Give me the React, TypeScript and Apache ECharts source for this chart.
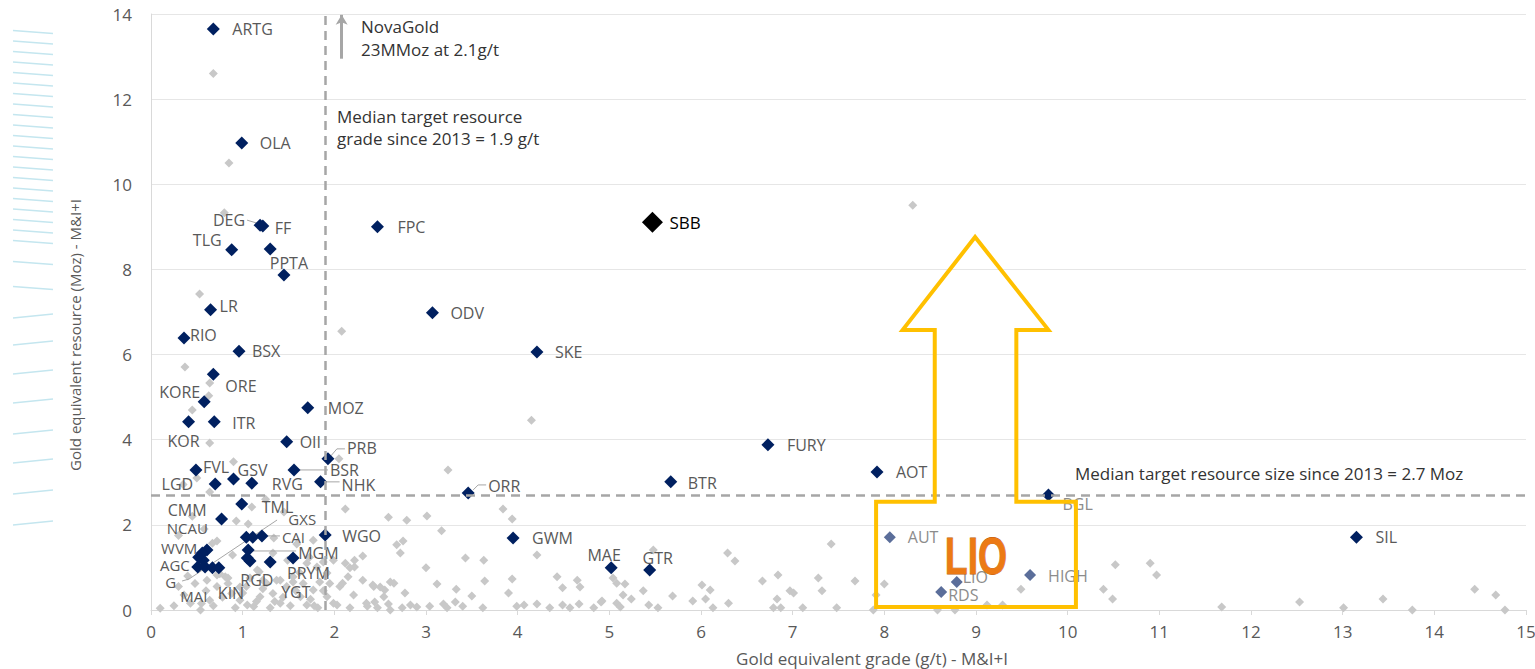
import React, { useEffect, useRef } from "react";
import * as echarts from "echarts";

// ---------------- DATA ----------------
const peerNames = ["ARTG","OLA","FF","DEG","TLG","","PPTA","LR","RIO","BSX","ORE","KORE","KOR","ITR","MOZ","OII","PRB","FVL","GSV","LGD","RVG","BSR","NHK","TML","CMM","GXS","","CAI","WGO","NCAU","WVM","","","AGC","G","MAI","KIN","MGM","RGD","","YGT","PRYM","FPC","ODV","SKE","FURY","AOT","ORR","BTR","GWM","MAE","GTR","BGL","SIL"];
const peerGrade = [0.68,0.99,1.22,1.19,0.88,1.30,1.45,0.65,0.36,0.96,0.68,0.58,0.41,0.69,1.71,1.48,1.93,0.49,0.90,0.70,1.10,1.56,1.85,0.99,0.77,1.04,1.11,1.21,1.90,0.61,0.56,0.52,0.57,0.51,0.59,0.67,0.74,1.06,1.05,1.08,1.30,1.55,2.47,3.07,4.21,6.73,7.92,3.46,5.67,3.95,5.02,5.44,9.79,13.15];
const peerResource = [13.65,10.97,9.02,9.04,8.46,8.48,7.87,7.05,6.39,6.08,5.54,4.89,4.42,4.42,4.75,3.95,3.55,3.29,3.08,2.96,2.98,3.29,3.01,2.49,2.14,1.71,1.71,1.74,1.76,1.41,1.34,1.24,1.17,1.01,1.01,0.99,0.99,1.41,1.22,1.15,1.13,1.22,9.00,6.98,6.06,3.88,3.24,2.75,3.01,1.69,0.99,0.94,2.70,1.71];

const highlightNames = ["AUT","LIO","RDS","HIGH"];
const highlightGrade = [8.06,8.79,8.62,9.59];
const highlightResource = [1.71,0.66,0.42,0.82];

const sbbNames = ["SBB"];
const sbbGrade = [5.47];
const sbbResource = [9.11];

const medianGrade = 1.9;
const medianSize = 2.7;

const otherDeposits = [
  [0.68,12.6],[0.85,10.5],[0.80,9.33],[0.53,7.42],[2.08,6.55],[0.37,5.71],[0.64,5.33],[0.63,5.03],[0.45,4.70],[0.64,3.92],
  [4.15,4.46],[8.31,9.51],[3.24,3.29],[2.05,3.55],[0.90,3.48],
  [0.64,2.77],[1.10,2.42],[0.93,2.09],[1.06,2.02],[0.72,1.62],[1.34,1.69],[1.59,1.55],[1.77,1.64],[0.89,1.29],[1.33,1.34],
  [1.49,1.17],[1.88,1.13],[1.73,1.24],[0.67,1.57],[0.35,2.95],[0.45,2.2],[0.30,1.75],[0.58,1.9],[1.25,2.6],[1.45,2.3],[0.50,3.1],
  [0.10,0.04],[0.43,0.16],[0.54,0.0],[0.64,0.23],[0.72,0.55],[0.81,0.78],[0.88,0.39],[0.97,0.23],[1.04,0.55],[1.12,0.08],
  [1.19,0.31],[1.26,0.63],[1.33,0.39],[1.41,0.16],[1.48,0.55],[1.55,0.78],[1.63,0.31],[1.70,0.12],[1.77,0.47],[1.84,0.66],
  [1.92,0.31],[1.99,0.16],[2.06,0.55],[2.15,0.78],[2.21,0.35],[2.35,0.16],[2.43,0.55],[2.54,0.31],[2.61,0.0],[2.65,0.63],
  [0.25,0.10],[0.36,0.35],[0.48,0.62],[0.60,0.45],[0.68,0.10],[0.78,0.30],[0.84,0.62],[0.92,0.05],[1.00,0.40],[1.08,0.75],
  [1.15,0.20],[1.22,0.50],[1.30,0.05],[1.37,0.70],[1.44,0.30],[1.52,0.10],[1.58,0.45],[1.66,0.62],[1.74,0.25],[1.82,0.05],
  [1.88,0.45],[1.95,0.62],[0.40,0.80],[0.75,0.85],[1.18,0.90],[1.62,0.88],[0.30,0.55],[0.55,0.15],[1.05,0.12],[1.35,0.20],
  [1.78,0.10],[0.72,0.82],[0.84,0.75],[0.61,0.70],[0.97,0.54],[1.16,0.94],[1.22,0.70],[1.41,0.70],[1.55,0.66],[1.70,1.10],
  [1.81,1.01],[1.92,0.87],[1.99,1.17],
  [2.12,2.37],[2.59,2.18],[2.79,2.11],[3.01,2.21],[3.17,1.86],[3.84,2.37],[3.94,2.14],[2.75,1.62],[2.68,1.53],[2.72,1.34],
  [2.31,1.27],[2.22,1.17],[3.43,1.22],[3.63,1.17],[3.00,0.99],[4.21,1.29],[2.12,1.10],[2.17,0.99],[2.22,1.01],[2.31,0.70],
  [2.09,0.63],[2.42,0.59],[2.50,0.54],[2.55,0.47],[2.61,0.66],[2.77,0.40],[3.12,0.61],[3.33,0.49],[3.50,0.33],[3.64,0.68],
  [3.94,0.73],[3.90,0.40],[4.07,0.12],[4.43,0.78],[4.49,0.52],[4.65,0.70],
  [2.03,0.12],[2.17,0.05],[2.36,0.09],[2.44,0.19],[2.47,0.05],[2.59,0.14],[2.74,0.05],[2.83,0.12],[2.90,0.07],[3.04,0.09],
  [3.19,0.14],[3.23,0.05],[3.32,0.19],[3.40,0.09],[3.62,0.05],[3.99,0.09],[4.21,0.14],[4.35,0.05],[4.49,0.12],[4.57,0.05],
  [4.68,0.54],[4.91,0.19],[4.67,0.14],[5.04,0.75],[5.08,0.63],[5.17,0.61],[5.15,0.35],[5.24,0.26],[5.08,0.16],[5.12,0.07],
  [5.37,0.45],[5.48,1.41],[5.43,0.12],[5.53,0.05],[5.69,0.33],[5.91,0.21],[6.01,0.59],[6.10,0.47],[6.05,0.26],[6.13,0.05],
  [6.29,1.34],[6.37,1.15],[6.30,0.16],[6.67,0.68],[6.84,0.82],[7.42,1.55],[7.28,0.75],[6.97,0.45],[7.01,0.40],[7.32,0.45],
  [6.83,0.26],[6.79,0.05],[6.87,0.05],[7.11,0.05],[7.48,0.05],[4.83,0.05],[4.92,0.21],
  [7.68,0.68],[8.00,0.61],[7.91,0.35],[7.88,0.0],[8.58,0.0],[8.77,0.0],[9.12,0.12],[9.29,0.12],[9.49,0.49],[10.52,1.06],
  [10.39,0.49],[10.49,0.26],[10.90,1.10],[10.97,0.82],[11.68,0.07],[12.53,0.19],[13.01,0.05],[13.44,0.26],[13.76,0.0],
  [14.44,0.49],[14.67,0.35],[14.77,0.0]
];

// Annotation shape (data coordinates): the yellow box + upward arrow around LIO
const liftArrowOutline = [[7.91,0.07],[10.09,0.07],[10.09,2.54],[9.44,2.54],[9.44,6.58],[9.79,6.58],[8.99,8.76],[8.20,6.58],[8.55,6.58],[8.55,2.54],[7.91,2.54]];
const lioTextAnchor = [9.0, 1.27];
const novaGoldArrow = [[2.08, 12.95], [2.08, 13.98]];

// ---------------- LAYOUT / STYLE ----------------
const FONT = "'Open Sans', 'Noto Sans', sans-serif";
const LABEL_GREY = "#595959";
const LIGHT_LABEL = "#8C8C8C";
const LABEL_SIZE = 16;
const SMALL_LABELS = ["NCAU", "WVM", "AGC", "G", "GXS", "CAI", "MAI"];

// [align, dx, dy] pixel placement of each point label
const LABEL_LAYOUT: Record<string, [string, number, number]> = {
  ARTG: ["left", 19, 0], OLA: ["left", 18, 0], FF: ["left", 12, 2], DEG: ["right", -15, -5],
  TLG: ["right", -10, -10], PPTA: ["center", 5, -12], LR: ["left", 9, -4], RIO: ["left", 6, -3],
  BSX: ["left", 13, 0], ORE: ["left", 12, 12], KORE: ["right", -4, -10], KOR: ["right", 11, 19],
  ITR: ["left", 18, 1], MOZ: ["left", 20, 0], OII: ["left", 13, 0], PRB: ["left", 19, -11],
  FVL: ["left", 7, -3], GSV: ["left", 4, -9], LGD: ["right", -22, 0], RVG: ["left", 20, 1],
  BSR: ["left", 36, 0], NHK: ["left", 21, 3], TML: ["left", 20, 3], CMM: ["right", -15, -9],
  GXS: ["left", 42, -18], CAI: ["left", 20, 1], WGO: ["left", 17, 1], NCAU: ["right", 1, -22],
  WVM: ["right", -5, -5], AGC: ["right", -8, -2], G: ["right", -29, 15], MAI: ["right", -5, 28],
  KIN: ["left", -1, 25], MGM: ["left", 50, 3], RGD: ["left", -7, 22], YGT: ["left", 11, 30],
  PRYM: ["left", -6, 15], FPC: ["left", 20, 0], ODV: ["left", 18, 0], SKE: ["left", 18, 0],
  FURY: ["left", 19, 0], AOT: ["left", 19, 0], ORR: ["left", 20, -7], BTR: ["left", 17, 1],
  GWM: ["left", 19, 0], MAE: ["center", -7, -13], GTR: ["center", 8, -12], BGL: ["left", 14, 9],
  SIL: ["left", 19, 0], AUT: ["left", 18, 0], LIO: ["left", 6, -5], RDS: ["left", 7, 3],
  HIGH: ["left", 18, 1], SBB: ["left", 17, 0],
};

// leader lines (pixel offsets from the point)
const LEADERS: Record<string, number[][]> = {
  DEG: [[-13, -5], [-3, -2]],
  PRB: [[17, -10], [9, -10], [3, -3]],
  BSR: [[6, 0], [34, 0]],
  NHK: [[5, 0], [19, 0]],
  CAI: [[4, 0], [18, 0]],
  MGM: [[5, 1], [48, 1]],
  G: [[-23, 14], [-16, 12], [72, -47]],
  ORR: [[5, -3], [10, -8], [18, -8]],
};

const LIGHT_LABELS = ["AUT", "LIO", "RDS", "HIGH", "BGL"];

function labelFor(name: string, color: string, fontSize = LABEL_SIZE) {
  if (!name || !LABEL_LAYOUT[name]) return { show: false };
  const [align, dx, dy] = LABEL_LAYOUT[name];
  const size = SMALL_LABELS.includes(name) ? 15 : fontSize;
  return {
    show: true,
    position: "inside",
    align,
    verticalAlign: "middle",
    offset: [dx, dy],
    formatter: name,
    color: LIGHT_LABELS.includes(name) ? LIGHT_LABEL : color,
    fontSize: size,
    lineHeight: 13,
    fontFamily: FONT,
  };
}

const leaderNames = Object.keys(LEADERS);
const allNames = [...peerNames, ...highlightNames];
const allGrade = [...peerGrade, ...highlightGrade];
const allResource = [...peerResource, ...highlightResource];
const leaderData = leaderNames.map((n) => {
  const i = allNames.indexOf(n);
  return [allGrade[i], allResource[i]];
});

const upperStrokes = Array.from({ length: 21 }, (_, i) => 32 + i * 10.5);
const lowerStrokes = [263, 288, 316, 343, 372, 401, 432, 461, 492, 523];

function buildOption() {
  const leftDecor: any[] = [];
  [...upperStrokes, ...lowerStrokes].forEach((y, i) => {
    const slope = i < 23 ? 1.5 : -2;
    leftDecor.push({
      type: "line",
      silent: true,
      shape: { x1: 13, y1: y - slope, x2: 53, y2: y + slope },
      style: { stroke: "#C4E6EF", lineWidth: 1.3 },
    });
  });

  const annText = (text: string, x: number, y: number, size = 17, color = "#333333") => ({
    type: "text",
    silent: true,
    x,
    y,
    style: { text, fill: color, fontSize: size, fontFamily: FONT, verticalAlign: "middle", align: "left" },
  });

  return {
    animation: false,
    backgroundColor: "#ffffff",
    textStyle: { fontFamily: FONT },
    grid: { left: 151, right: 9, top: 14, bottom: 59, outerBoundsMode: "none", containLabel: false },
    xAxis: {
      type: "value",
      min: 0,
      max: 15,
      interval: 1,
      axisLine: { show: true, onZero: false, lineStyle: { color: "#D9D9D9", width: 1 } },
      axisTick: { show: true, length: 5, lineStyle: { color: "#D9D9D9" } },
      axisLabel: { color: LABEL_GREY, fontSize: 17, margin: 13, fontFamily: FONT },
      splitLine: { show: false },
    },
    yAxis: {
      type: "value",
      min: 0,
      max: 14,
      interval: 2,
      axisLine: { show: true, onZero: false, lineStyle: { color: "#D9D9D9", width: 1 } },
      axisTick: { show: false },
      axisLabel: { color: LABEL_GREY, fontSize: 17, margin: 19, fontFamily: FONT },
      splitLine: { show: true, lineStyle: { color: "#E6E6E6", width: 1 } },
    },
    graphic: [
      // white area in the upper right where the source's gridlines stop
      { type: "rect", silent: true, shape: { x: 1111, y: 0, width: 424, height: 436 }, style: { fill: "#ffffff" } },
      ...leftDecor,
      annText("NovaGold", 361, 26),
      annText("23MMoz at 2.1g/t", 361, 49),
      annText("Median target resource", 337, 116),
      annText("grade since 2013 = 1.9 g/t", 337, 138),
      annText("Median target resource size since 2013 = 2.7 Moz", 1075, 473),
      {
        type: "text",
        silent: true,
        x: 872,
        y: 658,
        style: { text: "Gold equivalent grade (g/t) - M&I+I", fill: LABEL_GREY, fontSize: 17, fontFamily: FONT, align: "center", verticalAlign: "middle" },
      },
      {
        type: "text",
        silent: true,
        x: 75,
        y: 335,
        rotation: Math.PI / 2,
        style: { text: "Gold equivalent resource (Moz) - M&I+I", fill: LABEL_GREY, fontSize: 15, fontFamily: FONT, align: "center", verticalAlign: "middle" },
      },
    ],
    series: [
      {
        name: "Other deposits",
        type: "scatter",
        symbol: "diamond",
        symbolSize: 9,
        silent: true,
        z: 1,
        itemStyle: { color: "#C8C8C8", opacity: 1 },
        data: otherDeposits,
        markLine: {
          silent: true,
          symbol: "none",
          animation: false,
          label: { show: false },
          lineStyle: { color: "#A6A6A6", width: 2.5, type: [9, 6] },
          data: [
            { xAxis: medianGrade },
            { yAxis: medianSize },
            [
              { coord: novaGoldArrow[0], symbol: "none", lineStyle: { type: "solid", width: 3, color: "#A6A6A6" } },
              { coord: novaGoldArrow[1], symbol: "arrow", symbolSize: [9, 10] },
            ],
          ],
        },
      },
      {
        name: "Leaders",
        type: "custom",
        silent: true,
        z: 2,
        clip: false,
        data: leaderData,
        renderItem: (params: any, api: any) => {
          const c = api.coord([api.value(0), api.value(1)]);
          const offs = LEADERS[leaderNames[params.dataIndex]];
          return {
            type: "polyline",
            shape: { points: offs.map(([dx, dy]) => [c[0] + dx, c[1] + dy]) },
            style: { stroke: "#A6A6A6", lineWidth: 1, fill: null },
          };
        },
      },
      {
        name: "Peers",
        type: "scatter",
        symbol: "diamond",
        symbolSize: 13,
        silent: true,
        z: 3,
        itemStyle: { color: "#002060", opacity: 1 },
        data: peerNames.map((n, i) => ({
          name: n,
          value: [peerGrade[i], peerResource[i]],
          label: labelFor(n, LABEL_GREY),
        })),
      },
      {
        name: "Highlighted",
        type: "scatter",
        symbol: "diamond",
        symbolSize: 12,
        silent: true,
        z: 3,
        itemStyle: { color: "#5B6E9A", opacity: 1 },
        data: highlightNames.map((n, i) => ({
          name: n,
          value: [highlightGrade[i], highlightResource[i]],
          label: labelFor(n, LIGHT_LABEL),
        })),
      },
      {
        name: "SBB",
        type: "scatter",
        symbol: "diamond",
        symbolSize: 21,
        silent: true,
        z: 4,
        itemStyle: { color: "#000000", opacity: 1 },
        data: sbbNames.map((n, i) => ({
          name: n,
          value: [sbbGrade[i], sbbResource[i]],
          label: labelFor(n, "#000000", 17),
        })),
      },
      {
        name: "LIO callout",
        type: "custom",
        silent: true,
        z: 10,
        clip: false,
        data: [[0, 0]],
        renderItem: (_params: any, api: any) => {
          const pts = liftArrowOutline.map((p) => api.coord(p));
          const c = api.coord(lioTextAnchor);
          return {
            type: "group",
            children: [
              {
                type: "polygon",
                shape: { points: pts },
                style: { fill: "none", stroke: "#FFC000", lineWidth: 4, lineJoin: "miter" },
              },
              {
                type: "text",
                x: c[0],
                y: c[1],
                scaleX: 0.72,
                style: {
                  text: "LIO",
                  fill: "#EC7A14",
                  stroke: "#B85A0C",
                  lineWidth: 0.8,
                  fontSize: 52,
                  fontWeight: "bold",
                  fontFamily: "'Liberation Sans', 'Open Sans', sans-serif",
                  align: "center",
                  verticalAlign: "middle",
                  shadowBlur: 3,
                  shadowColor: "rgba(0,0,0,0.45)",
                  shadowOffsetX: 1,
                  shadowOffsetY: 2,
                },
              },
            ],
          };
        },
      },
    ],
  };
}

export default function App() {
  const ref = useRef<HTMLDivElement>(null);
  useEffect(() => {
    if (!ref.current) return;
    const chart = echarts.init(ref.current, null, { renderer: "svg" });
    chart.setOption(buildOption() as any);
    return () => chart.dispose();
  }, []);
  return (
    <div
      ref={ref}
      style={{ position: "fixed", left: 0, top: 0, width: 1535, height: 669, background: "#ffffff" }}
    />
  );
}
